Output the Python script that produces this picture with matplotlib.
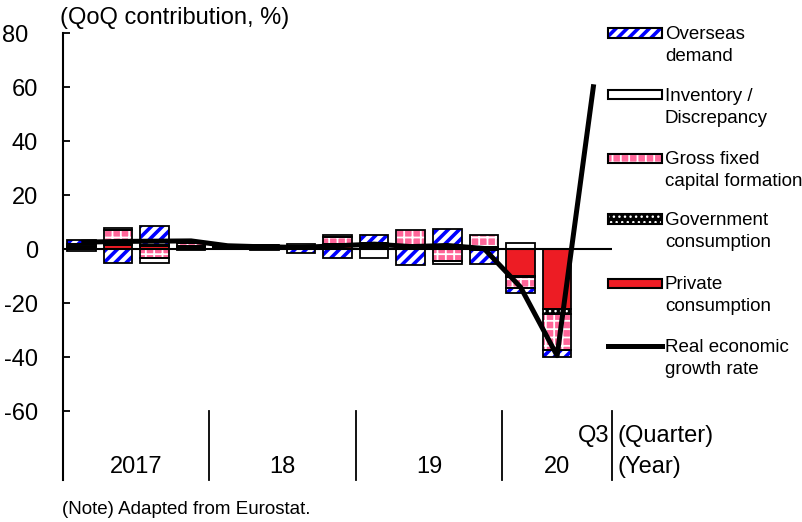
import numpy as np
import matplotlib
matplotlib.use('Agg')
import matplotlib.pyplot as plt
import matplotlib.transforms as mtransforms
from matplotlib.patches import Rectangle
from matplotlib.lines import Line2D

plt.rcParams['font.family'] = ['Liberation Sans', 'DejaVu Sans']
plt.rcParams['axes.unicode_minus'] = False
plt.rcParams['hatch.linewidth'] = 2.0

# Euro area real GDP, contributions to QoQ growth (annualised, %), 2017Q1-2020Q3
quarters = ['17Q1', '17Q2', '17Q3', '17Q4', '18Q1', '18Q2', '18Q3', '18Q4',
            '19Q1', '19Q2', '19Q3', '19Q4', '20Q1', '20Q2', '20Q3']
years = ['2017', '18', '19', '20']
quarters_per_year = [4, 4, 4, 3]

private = [0.9, 1.5, 1.0, 0.8, 0.5, 0.4, 0.5, 1.2, 0.8, 1.0, 1.0, 0.3, -10.0, -22.3, np.nan]
government = [0.3, 0.5, 0.3, 0.4, 0.3, 0.3, 0.3, 0.6, 0.4, 0.5, 0.5, 0.5, -0.2, -1.8, np.nan]
gfcf = [0.6, 5.0, -3.2, 1.0, 0.3, 0.6, 0.4, 2.5, 1.2, 5.4, -4.5, 4.4, -4.2, -13.3, np.nan]
inventory = [-0.6, 0.9, -1.8, -0.3, 0.2, 0.3, 0.6, 0.9, -3.2, 0.0, -1.2, -0.3, 2.3, 0.0, np.nan]
overseas = [1.5, -5.0, 7.2, 0.5, 0.3, -0.4, -1.4, -3.2, 2.8, -5.9, 5.8, -5.2, -1.8, -2.6, np.nan]
growth = [2.5, 2.8, 2.9, 3.0, 1.2, 0.8, 0.6, 1.2, 1.8, 0.9, 1.3, 0.2, -14.1, -39.5, 61.0]

# fill style per series: face colour, hatch, hatch colour, hatch width
styles = {
    'private': dict(face='#ED1C24', hatch=None, hcolor='#ED1C24', hlw=1.0),
    'government': dict(face='black', hatch='...', hcolor='white', hlw=1.0),
    'gfcf': dict(face='#FF6699', hatch='++', hcolor='white', hlw=1.3),
    'inventory': dict(face='white', hatch=None, hcolor='white', hlw=1.0),
    'overseas': dict(face='white', hatch='///', hcolor='#0000FF', hlw=2.6),
}
stack = [('private', private), ('government', government), ('gfcf', gfcf),
         ('inventory', inventory), ('overseas', overseas)]

legend_items = [
    ('overseas', 'Overseas\ndemand'),
    ('inventory', 'Inventory /\nDiscrepancy'),
    ('gfcf', 'Gross fixed\ncapital formation'),
    ('government', 'Government\nconsumption'),
    ('private', 'Private\nconsumption'),
    ('line', 'Real economic\ngrowth rate'),
]

W, H = 802, 522
fig = plt.figure(figsize=(W / 100, H / 100), dpi=100)
ax = fig.add_axes([63 / W, 1 - 411 / H, (612 - 63) / W, (411 - 33) / H])

x = np.arange(len(quarters))
width = 0.78


def set_hatch_lw(bars, lw):
    for p in bars:
        if hasattr(p, 'set_hatch_linewidth'):
            p.set_hatch_linewidth(lw)


pos = np.zeros(len(x))
neg = np.zeros(len(x))
for key, vals in stack:
    v = np.nan_to_num(np.asarray(vals, dtype=float))
    st = styles[key]
    keep = v != 0
    bottom = np.where(v >= 0, pos, neg)
    bars = ax.bar(x[keep], v[keep], width, bottom=bottom[keep], color=st['face'],
                  edgecolor=st['hcolor'], linewidth=0, hatch=st['hatch'], zorder=2)
    set_hatch_lw(bars, st['hlw'])
    ax.bar(x[keep], v[keep], width, bottom=bottom[keep], fill=False,
           edgecolor='black', linewidth=1.3, zorder=3)
    pos += np.where(v > 0, v, 0)
    neg += np.where(v < 0, v, 0)

ax.axhline(0, color='black', lw=1.5, zorder=4)
ax.plot(x, growth, color='black', lw=3.6, zorder=5, solid_capstyle='butt')

ax.set_xlim(-0.5, len(x) - 0.5)
ax.set_ylim(-60, 80)
ax.set_yticks(np.arange(-60, 81, 20))
ax.tick_params(axis='y', direction='in', length=5, width=1.3, labelsize=17, pad=18)
ax.tick_params(axis='x', bottom=False, labelbottom=False)
for s in ['top', 'right', 'bottom', 'left']:
    ax.spines[s].set_visible(False)

# shift the top tick label to the left
top_lab = ax.get_yticklabels()[-1]
top_lab.set_transform(top_lab.get_transform() +
                      mtransforms.ScaledTranslation(-10 / 100, 0, fig.dpi_scale_trans))

# value axis and category area below the plot
low = (411 - 480) / 378
ax.axvline(-0.5, ymin=low, ymax=1, color='black', lw=1.5, clip_on=False)
edges = np.cumsum(quarters_per_year) - 0.5
for e in edges:
    ax.axvline(e, ymin=low, ymax=0, color='black', lw=1.3, clip_on=False)

tb = ax.get_xaxis_transform()
starts = np.concatenate([[-0.5], edges[:-1]])
for yr, a, b in zip(years, starts, edges):
    ax.text((a + b) / 2, -0.147, yr, transform=tb, ha='center', va='center', fontsize=17)
ax.text(x[-1], -0.066, 'Q3', transform=tb, ha='center', va='center', fontsize=17)
off = mtransforms.offset_copy(tb, fig=fig, x=5, y=0, units='dots')
ax.text(edges[-1], -0.066, '(Quarter)', transform=off, ha='left', va='center', fontsize=17)
ax.text(edges[-1], -0.147, '(Year)', transform=off, ha='left', va='center', fontsize=17)

fig.text(60 / W, 1 - 18 / H, '(QoQ contribution, %)', ha='left', va='center', fontsize=17)
fig.text(62 / W, 1 - 509 / H, '(Note) Adapted from Eurostat.', ha='left', va='center',
         fontsize=13.5)

# legend drawn by hand
ys = [33, 95, 158, 219, 283, 346]
for (key, label), yc in zip(legend_items, ys):
    if key == 'line':
        fig.add_artist(Line2D([608 / W, 662 / W], [1 - yc / H] * 2, color='black',
                              lw=3.6, transform=fig.transFigure))
    else:
        st = styles[key]
        r = Rectangle((608 / W, 1 - (yc + 4.5) / H), 54 / W, 9 / H,
                      transform=fig.transFigure, facecolor=st['face'],
                      edgecolor=st['hcolor'], linewidth=0, hatch=st['hatch'])
        set_hatch_lw([r], st['hlw'])
        fig.add_artist(r)
        fig.add_artist(Rectangle((608 / W, 1 - (yc + 4.5) / H), 54 / W, 9 / H,
                                 transform=fig.transFigure, fill=False,
                                 edgecolor='black', linewidth=1.5))
    fig.text(665 / W, 1 - (yc - 7) / H, label, ha='left', va='top', fontsize=13.5,
             linespacing=1.4)

fig.savefig('out.png', dpi=100)
